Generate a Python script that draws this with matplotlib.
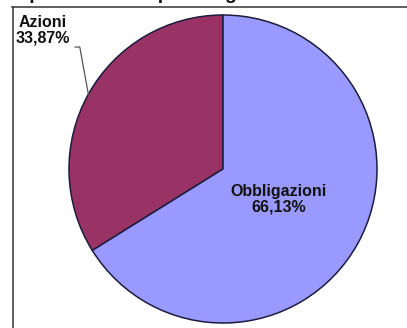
import numpy as np
import matplotlib.pyplot as plt
from matplotlib.lines import Line2D

plt.rcParams['font.family'] = ['Liberation Sans', 'DejaVu Sans']

categories = ["Azioni", "Obbligazioni"]
values = [33.87, 66.13]
colors = ["#993366", "#9999FF"]
title = "Composizione del portafoglio al 31.12.2012"

W, H = 407, 328
fig = plt.figure(figsize=(W / 100, H / 100), dpi=100)

# pie centre and radius in pixels
cx, cy, r = 223, 169, 154
ax = fig.add_axes([(cx - r) / W, (H - cy - r) / H, 2 * r / W, 2 * r / H])
wedges, _ = ax.pie(values, colors=colors, startangle=90, counterclock=True,
                   wedgeprops=dict(edgecolor="#1c1c3c", linewidth=1.1))
ax.set_xlim(-1, 1)
ax.set_ylim(-1, 1)
ax.set_aspect("equal")
ax.axis("off")

def lab(v):
    return f"{v:.2f}".replace(".", ",") + "%"

# Obbligazioni label inside the wedge
w = wedges[1]
mid = np.deg2rad((w.theta1 + w.theta2) / 2)
ax.text(0.41 * np.cos(mid), 0.41 * np.sin(mid), f"{categories[1]}\n{lab(values[1])}",
        ha="center", va="center", fontsize=11.5, fontweight="bold",
        color="#111111", linespacing=1.05)

# Azioni label outside with leader line
w = wedges[0]
mid = np.deg2rad((w.theta1 + w.theta2) / 2)
ex, ey = np.cos(mid), np.sin(mid)
ax.plot([ex, -0.93, -0.96], [ey, 0.792, 0.792], color="#555555", lw=0.9, clip_on=False)
ax.text(-1.169, 0.90, f"{categories[0]}\n{lab(values[0])}", ha="center", va="center",
        fontsize=11.5, fontweight="bold", color="#111111", linespacing=1.05)

# partial title cut at the top
fig.text(-14 / W, 1 + 1 / H, title, ha="left", va="baseline",
         fontsize=14, fontweight="bold", color="#111111")

# chart frame
fig.add_artist(Line2D([12.5 / W, 12.5 / W], [0, 1 - 7 / H], color="#333333", lw=1.1))
fig.add_artist(Line2D([12 / W, 1], [1 - 7 / H, 1 - 7 / H], color="#333333", lw=1.1))

fig.savefig("out.png", dpi=100)
